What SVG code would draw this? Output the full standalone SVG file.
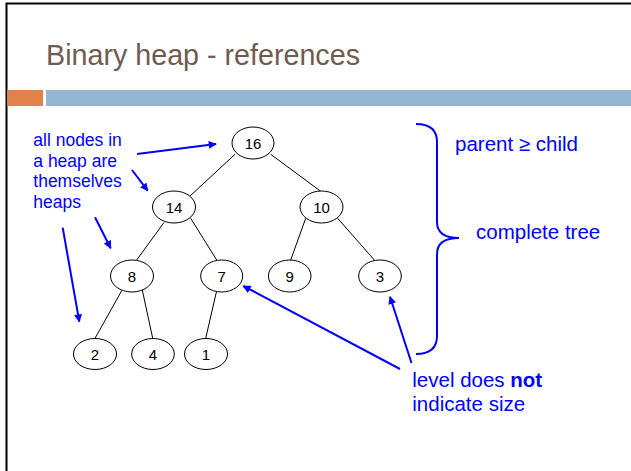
<svg xmlns="http://www.w3.org/2000/svg" width="631" height="471" viewBox="0 0 631 471">
<style>
.node ellipse{fill:#fff;stroke:#000;stroke-width:1}
.node text{font-family:"Liberation Sans",Arial,sans-serif;font-size:15px;fill:#000;text-anchor:middle}
.edge{stroke:#000;stroke-width:1;fill:none}
.arrow{stroke:#0000FF;stroke-width:2;fill:none;marker-end:url(#ah)}
.note{font-family:"Liberation Sans",Arial,sans-serif;fill:#0000FF}
</style>
<defs>
<marker id="ah" viewBox="0 0 10 10" refX="9" refY="5" markerWidth="4.5" markerHeight="4" orient="auto" markerUnits="strokeWidth">
<path d="M0,0 L10,5 L0,10 z" fill="#0000FF"/>
</marker>
</defs>
<rect x="0" y="0" width="631" height="471" fill="#fff"/>
<g id="frame">
<path d="M6.5,471 L6.5,3.5 L631,3.5" fill="none" stroke="#000" stroke-width="2"/>
<rect x="7" y="90" width="36" height="16" fill="#E0834A"/>
<rect x="46" y="90" width="585" height="16" fill="#94B6D2"/>
<text x="46" y="65" font-family="'Liberation Sans',Arial,sans-serif" font-size="29" fill="#6F5B52" textLength="314" lengthAdjust="spacingAndGlyphs">Binary heap - references</text>
</g>
<g id="connectors">
<line class="edge" x1="235" y1="154.3" x2="190" y2="196"/>
<line class="edge" x1="270.7" y1="154.3" x2="321" y2="191.5"/>
<line class="edge" x1="164" y1="222.5" x2="136.7" y2="260"/>
<line class="edge" x1="190.7" y1="218.3" x2="216.7" y2="260"/>
<line class="edge" x1="305.7" y1="218.3" x2="290.7" y2="260"/>
<line class="edge" x1="337.7" y1="218.3" x2="374.3" y2="260"/>
<line class="edge" x1="121.7" y1="290.7" x2="95" y2="338.3"/>
<line class="edge" x1="142.3" y1="290" x2="152.7" y2="338.3"/>
<line class="edge" x1="216.7" y1="290.7" x2="205.7" y2="338.3"/>
</g>
<g id="n16" class="node"><ellipse cx="253" cy="143" rx="21" ry="16"/><text x="253" y="148.5">16</text></g>
<g id="n14" class="node"><ellipse cx="174" cy="207" rx="21.5" ry="16"/><text x="174" y="212.5">14</text></g>
<g id="n10" class="node"><ellipse cx="321.5" cy="207" rx="21.5" ry="16"/><text x="321.5" y="212.5">10</text></g>
<g id="n8" class="node"><ellipse cx="132" cy="276" rx="21.5" ry="16"/><text x="132" y="281.5">8</text></g>
<g id="n7" class="node"><ellipse cx="221.7" cy="276" rx="21" ry="16"/><text x="221.7" y="281.5">7</text></g>
<g id="n9" class="node"><ellipse cx="289.7" cy="276" rx="21.3" ry="16"/><text x="289.7" y="281.5">9</text></g>
<g id="n3" class="node"><ellipse cx="380" cy="276" rx="21.3" ry="16"/><text x="380" y="281.5">3</text></g>
<g id="n2" class="node"><ellipse cx="95" cy="354" rx="21.5" ry="15.5"/><text x="95" y="359.5">2</text></g>
<g id="n4" class="node"><ellipse cx="153" cy="354" rx="21.3" ry="15.5"/><text x="153" y="359.5">4</text></g>
<g id="n1" class="node"><ellipse cx="206" cy="354" rx="21.5" ry="15.5"/><text x="206" y="359.5">1</text></g>
<g id="annotations">
<line class="arrow" x1="137" y1="154" x2="216" y2="144"/>
<line class="arrow" x1="132" y1="170" x2="147.7" y2="190.7"/>
<line class="arrow" x1="95" y1="217.3" x2="110.7" y2="248.3"/>
<line class="arrow" x1="62.7" y1="227.7" x2="79.3" y2="321.7"/>
<line class="arrow" x1="400" y1="369" x2="243.3" y2="286"/>
<line class="arrow" x1="411.5" y1="363" x2="390" y2="296.7"/>
<path d="M416,124 Q437,124 437,142 L437,222 Q437,238 459,238 Q437,238 437,254 L437,336 Q437,354 416,354" fill="none" stroke="#0000FF" stroke-width="2"/>
<text class="note" font-size="17.5" x="33.3"><tspan x="33.3" y="146">all nodes in</tspan><tspan x="33.3" y="166.5">a heap are</tspan><tspan x="33.3" y="187">themselves</tspan><tspan x="33.3" y="207.5">heaps</tspan></text>
<text class="note" font-size="20.5" x="455" y="150.7">parent ≥ child</text>
<text class="note" font-size="20.5" x="476" y="239.3">complete tree</text>
<text class="note" font-size="20.5"><tspan x="412.3" y="386.7">level does <tspan font-weight="bold">not</tspan></tspan><tspan x="412.3" y="410.7">indicate size</tspan></text>
</g>
</svg>
